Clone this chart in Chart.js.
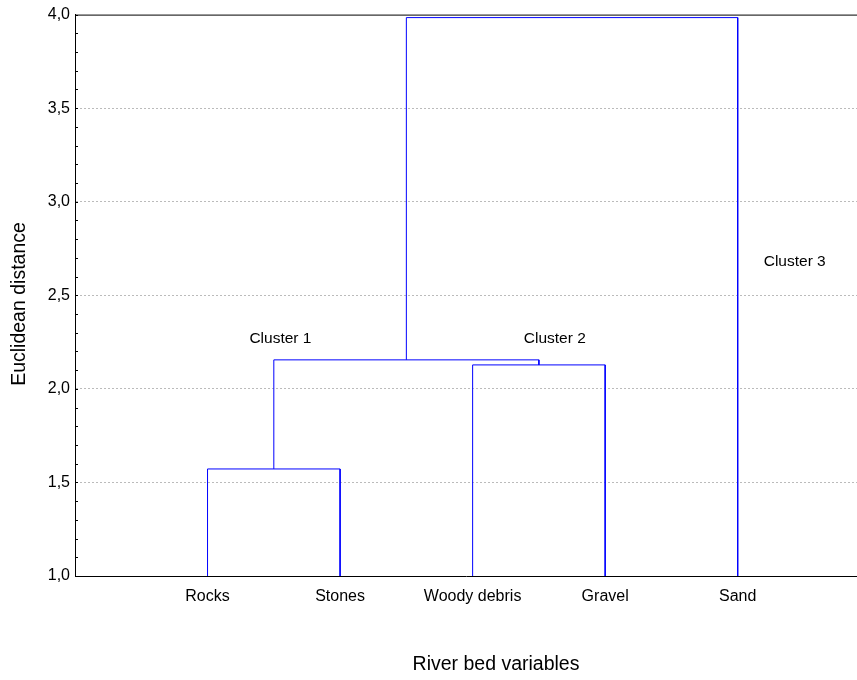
<!DOCTYPE html>
<html>
<head>
<meta charset="utf-8">
<script src="https://cdn.jsdelivr.net/npm/chart.js@4.4.1/dist/chart.umd.min.js"></script>
<style>
  html, body { margin: 0; padding: 0; background: #fff; }
  #wrap { width: 857px; height: 680px; }
</style>
</head>
<body>
<div id="wrap"><canvas id="dendro" width="857" height="680"></canvas></div>
<script>
// leaves of the tree, left to right
var leaves = ['Rocks', 'Stones', 'Woody debris', 'Gravel', 'Sand'];
// linkage: nodes 0-4 are leaves, node 5 = first link, 6 = second ...
var linkLeft = [0, 2, 5, 7];
var linkRight = [1, 3, 6, 4];
var linkHeight = [1.572, 2.128, 2.155, 3.984];
// cluster annotations (in data units)
var clusterNames = ['Cluster 1', 'Cluster 2', 'Cluster 3'];
var clusterX = [1.55, 3.62, 5.43];
var clusterY = [2.27, 2.27, 2.68];
// y axis
var yMin = 1.0, yMax = 4.0, yStep = 0.5;
var xTitle = 'River bed variables';
var yTitle = 'Euclidean distance';

var FONT = '"Liberation Sans", Arial, sans-serif';

// position of every node
var nodeX = [], nodeY = [];
for (var i = 0; i < leaves.length; i++) {
    nodeX.push(i + 1);
    nodeY.push(yMin);
}
var datasets = [];
for (var k = 0; k < linkLeft.length; k++) {
    var a = linkLeft[k], b = linkRight[k], h = linkHeight[k];
    datasets.push({
        data: [
            {x: nodeX[a], y: nodeY[a]},
            {x: nodeX[a], y: h},
            {x: nodeX[b], y: h},
            {x: nodeX[b], y: nodeY[b]}
        ],
        borderColor: '#0000FF',
        borderWidth: 1,
        pointRadius: 0,
        fill: false,
        tension: 0
    });
    nodeX.push((nodeX[a] + nodeX[b]) / 2);
    nodeY.push(h);
}

// top frame line, small ticks, cluster texts and axis titles
var extras = {
    id: 'extras',
    afterDraw: function(chart) {
        var ctx = chart.ctx, area = chart.chartArea;
        var xs = chart.scales.x, ys = chart.scales.y;
        ctx.save();
        ctx.strokeStyle = '#000';
        ctx.lineWidth = 1;
        ctx.beginPath();
        ctx.moveTo(area.left, area.top + 0.5);
        ctx.lineTo(area.right, area.top + 0.5);
        ctx.stroke();
        // minor ticks on the y axis, pointing inside
        ctx.beginPath();
        for (var v = yMin * 10; v <= yMax * 10; v++) {
            var py = Math.round(ys.getPixelForValue(v / 10)) + 0.5;
            ctx.moveTo(area.left, py);
            ctx.lineTo(area.left + 3, py);
        }
        ctx.stroke();
        ctx.fillStyle = '#000';
        ctx.font = '15.5px ' + FONT;
        ctx.textAlign = 'center';
        ctx.textBaseline = 'middle';
        for (var c = 0; c < clusterNames.length; c++) {
            ctx.fillText(clusterNames[c], xs.getPixelForValue(clusterX[c]), ys.getPixelForValue(clusterY[c]));
        }
        // axis titles (the original plot is centred a bit right of the visible area)
        ctx.font = '19.5px ' + FONT;
        ctx.fillText(xTitle, 496, 665);
        ctx.translate(20, 304);
        ctx.rotate(-Math.PI / 2);
        ctx.fillText(yTitle, 0, 0);
        ctx.restore();
    }
};

var dendro = new Chart(document.getElementById('dendro'), {
    type: 'line',
    data: { datasets: datasets },
    options: {
        responsive: false,
        animation: false,
        layout: { padding: { top: 14, right: 0, left: 0, bottom: 0 } },
        plugins: { legend: { display: false }, tooltip: { enabled: false } },
        scales: {
            x: {
                type: 'linear',
                min: 0,
                max: 5.9,
                afterBuildTicks: function(scale) {
                    scale.ticks = leaves.map(function(n, i) { return {value: i + 1}; });
                },
                afterFit: function(scale) { scale.height = 104; },
                ticks: {
                    autoSkip: false,
                    maxRotation: 0,
                    padding: 11,
                    color: '#000',
                    font: { family: FONT, size: 16 },
                    callback: function(v) { return leaves[v - 1]; }
                },
                grid: { display: false, drawTicks: false },
                border: { color: '#000', width: 1 }
            },
            y: {
                min: yMin,
                max: yMax,
                afterFit: function(scale) { scale.width = 75; },
                ticks: {
                    stepSize: yStep,
                    padding: 5,
                    color: '#000',
                    font: { family: FONT, size: 16 },
                    callback: function(v) { return v.toFixed(1).replace('.', ','); }
                },
                grid: {
                    drawTicks: false,
                    color: function(ctx) {
                        var v = ctx.tick ? ctx.tick.value : null;
                        return (v === yMin || v === yMax) ? 'rgba(0,0,0,0)' : '#bbbbbb';
                    }
                },
                border: { color: '#000', width: 1, dash: [2, 2] }
            }
        }
    },
    plugins: [extras]
});
</script>
</body>
</html>
